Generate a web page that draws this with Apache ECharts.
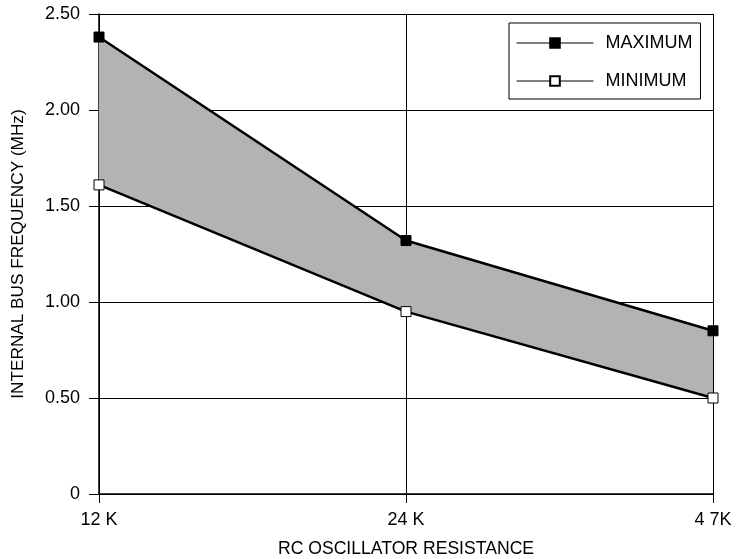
<!DOCTYPE html>
<html>
<head>
<meta charset="utf-8">
<script src="https://cdn.jsdelivr.net/npm/echarts@6/dist/echarts.min.js"></script>
<style>
  html, body { margin: 0; padding: 0; background: #fff; }
  #chart { width: 739px; height: 559px; }
</style>
</head>
<body>
<div id="chart"></div>
<script>
var categories = ['12 K', '24 K', '4 7K'];
var maxValues = [2.38, 1.32, 0.85];
var minValues = [1.61, 0.95, 0.50];
var yTicks = [0, 0.5, 1, 1.5, 2, 2.5];

var bandValues = maxValues.map(function (v, i) { return +(v - minValues[i]).toFixed(3); });
var font = '"Liberation Sans", Arial, sans-serif';

var chart = echarts.init(document.getElementById('chart'));
var option = {
    animation: false,
    backgroundColor: '#fff',
    textStyle: { fontFamily: font },
    grid: { left: 99, right: 26, top: 14, bottom: 65, outerBoundsMode: 'none', containLabel: false },
    legend: {
        data: ['MAXIMUM', 'MINIMUM'],
        orient: 'vertical',
        left: 509,
        top: 23,
        padding: [11, 8, 9, 7],
        itemWidth: 77,
        itemHeight: 12,
        itemGap: 20,
        borderColor: '#000',
        borderWidth: 1,
        lineStyle: { width: 1 },
        textStyle: { fontSize: 18, color: '#000', padding: [0, 0, 0, 7], fontFamily: font }
    },
    xAxis: {
        type: 'category',
        data: categories,
        boundaryGap: false,
        name: 'RC OSCILLATOR RESISTANCE',
        nameLocation: 'middle',
        nameGap: 46,
        nameTextStyle: { fontSize: 17.6, color: '#000', fontFamily: font },
        axisLine: { lineStyle: { color: '#000', width: 1.5 } },
        axisTick: { show: true, length: 9, lineStyle: { color: '#000', width: 1 } },
        axisLabel: { fontSize: 18, color: '#000', margin: 17, fontFamily: font },
        splitLine: { show: true, lineStyle: { color: '#000', width: 1 } }
    },
    yAxis: {
        type: 'value',
        min: 0,
        max: 2.5,
        interval: 0.5,
        name: 'INTERNAL BUS FREQUENCY (MHz)',
        nameLocation: 'middle',
        nameGap: 72,
        nameTextStyle: { fontSize: 17.2, color: '#000', fontFamily: font },
        axisLine: { show: true, lineStyle: { color: '#000', width: 1.5 } },
        axisTick: { show: true, length: 10, lineStyle: { color: '#000', width: 1 } },
        axisLabel: {
            fontSize: 18, color: '#000', margin: 19, fontFamily: font,
            formatter: function (v) { return v === 0 ? '0' : v.toFixed(2); }
        },
        splitLine: { show: true, lineStyle: { color: '#000', width: 1 } }
    },
    series: [
        {
            name: 'MINIMUM',
            type: 'line',
            stack: 'band',
            data: minValues,
            symbol: 'rect',
            symbolSize: 10,
            z: 4,
            lineStyle: { color: '#000', width: 2.5 },
            itemStyle: { color: '#fff', borderColor: '#000', borderWidth: 1 }
        },
        {
            name: 'band',
            type: 'line',
            stack: 'band',
            data: bandValues,
            symbol: 'none',
            z: 1,
            lineStyle: { opacity: 0 },
            areaStyle: { color: '#b3b3b3', opacity: 1 }
        },
        {
            name: 'MAXIMUM',
            type: 'line',
            data: maxValues,
            symbol: 'rect',
            symbolSize: 10,
            z: 5,
            lineStyle: { color: '#000', width: 2.5 },
            itemStyle: { color: '#000', borderColor: '#000', borderWidth: 1 }
        }
    ]
};
chart.setOption(option);
window.addEventListener('resize', chart.resize);
</script>
</body>
</html>
